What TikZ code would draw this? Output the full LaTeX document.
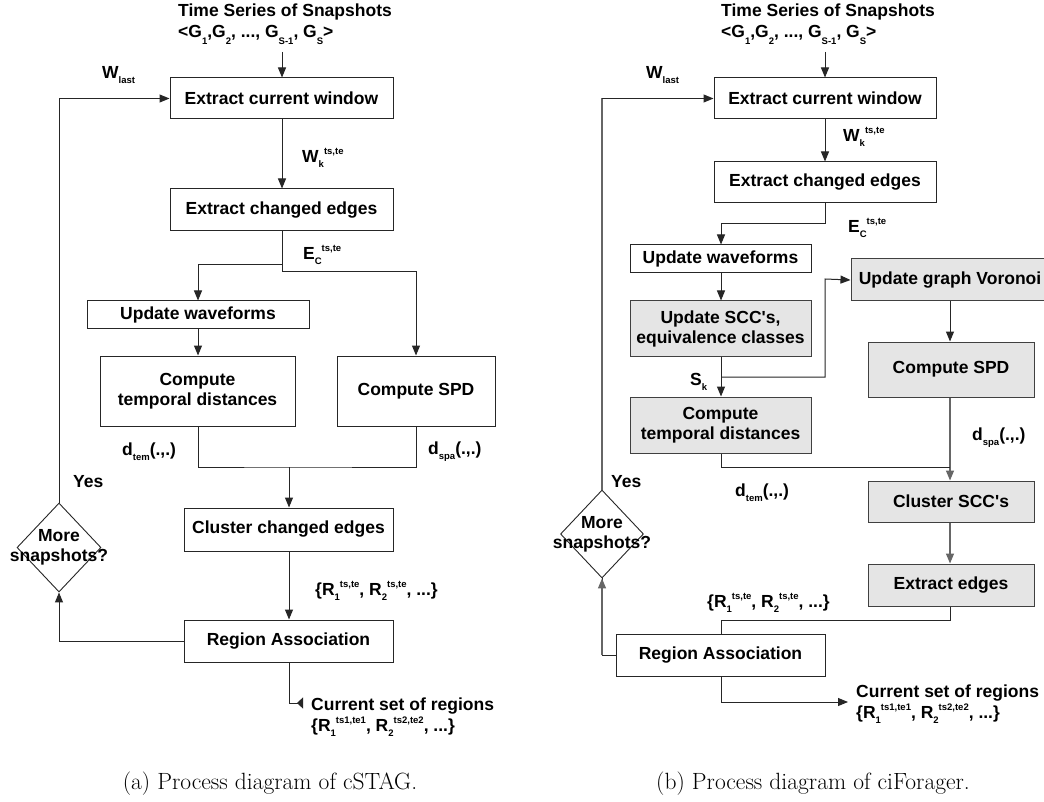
\documentclass[tikz,border=0pt]{standalone}
\usepackage{fontspec}
\newfontfamily\arialb{Liberation Sans}
\usetikzlibrary{arrows.meta,shapes.geometric}
% small raised / lowered indices for the bold sans labels
\newcommand\dn[1]{\raisebox{-5pt}{\fontsize{9.5}{9.5}\selectfont #1}}
\newcommand\dnG[1]{\raisebox{-7pt}{\fontsize{9.5}{9.5}\selectfont #1}}
\newcommand\up[1]{\raisebox{7.5pt}{\fontsize{9.5}{9.5}\selectfont #1}}
\tikzset{
  txt/.style={font=\arialb\bfseries\fontsize{17.5}{20}\selectfont, inner sep=0pt},
  box/.style={txt, draw=black!85, line width=1pt, align=center, anchor=center},
  gbox/.style={box, fill=black!10, draw=black!75},
  line/.style={draw=black!85, line width=1pt},
  gline/.style={draw=black!60, line width=1.3pt},
  arr/.style={line, -{Triangle[length=10pt,width=8pt]}},
  garr/.style={gline, -{Triangle[length=10pt,width=8pt]}},
  dia/.style={shape=diamond, draw=black!85, line width=0.9pt, inner sep=0pt},
  lbl/.style={txt, anchor=west, align=left},
  % two-line text, placed by the baseline of its last line
  para/.style={txt, anchor=base west, align=left, font=\arialb\bfseries\fontsize{17.5}{20.5}\selectfont},
  captext/.style={font=\fontsize{23.5}{26}\selectfont, inner sep=0pt}
}
\begin{document}
\begin{tikzpicture}[x=1pt,y=-1pt]
\useasboundingbox[fill=white] (0,0) rectangle (1044,802);

%% ---------------- (a) cSTAG ----------------
\node[para] (tsA) at (178,37.5) {Time Series of Snapshots\\<G\dnG{1},G\dnG{2}, ..., G\dnG{S-1}, G\dnG{S}>};
\coordinate (inA) at (282,52);
\node[box, minimum width=223pt, minimum height=41pt] (ewA) at (281.5,98.5) {Extract current window};
\node[box, minimum width=223pt, minimum height=42pt] (ceA) at (281.5,210) {Extract changed edges};
\node[box, minimum width=222pt, minimum height=27pt] (uwA) at (198,314.5) {Update waveforms};
\node[box, minimum width=195pt, minimum height=70pt] (ctA) at (197.5,391) {Compute\\temporal distances};
\node[box, minimum width=158pt, minimum height=70pt] (spA) at (416,391) {Compute SPD};
\node[box, minimum width=209pt, minimum height=43pt] (clA) at (288.5,529.5) {Cluster changed edges};
\node[box, minimum width=209pt, minimum height=42pt] (raA) at (288.5,641) {Region Association};
\node[dia, minimum width=84pt, minimum height=89pt,
      label={[txt, align=center]center:More\\snapshots?}] (dmA) at (59,547.5) {};
\coordinate (jA) at (289,467);
\coordinate (oA) at (303,703);

\draw[arr] (inA) -- (ewA.north -| inA);
\draw[arr] (ewA.south -| inA) -- (ceA.north -| inA);
\draw[arr] (ceA.south -| inA) |- (198,265) -- (uwA.north);
\draw[arr] (ceA.south -| inA) |- (416,272) -- (spA.north);
\draw[arr] (uwA.south) -- (ctA.north -| uwA);
\draw[line] (ctA.south -| uwA) |- (jA) -| (spA.south);
\draw[arr] (jA) -- (clA.north -| jA);
\draw[arr] (clA.south -| jA) -- (raA.north -| jA);
\draw[arr] (raA.west) -| (dmA.south);
\draw[arr] (dmA.north) |- (ewA.west);
\draw[line, -{Triangle[length=6pt,width=11pt,reversed]}] (raA.south -| jA) |- (oA);

\node[lbl] (wlA) at (102,75) {W\dn{last}};
\node[lbl] (wkA) at (302,158) {W\dn{k}\up{ts,te}};
\node[lbl] (ecA) at (303,255) {E\dn{C}\up{ts,te}};
\node[lbl] (dtA) at (122,452) {d\dn{tem}(.,.)};
\node[lbl] (dsA) at (428,452) {d\dn{spa}(.,.)};
\node[lbl] (yA) at (73,482) {Yes};
\node[lbl] (rA) at (315,591) {\{R\dn{1}\up{ts,te}, R\dn{2}\up{ts,te}, ...\}};
\node[para] (outA) at (311,731) {Current set of regions\\\{R\dn{1}\up{ts1,te1}, R\dn{2}\up{ts2,te2}, ...\}};
\node[captext] (capA) at (270,784) {(a) Process diagram of cSTAG.};

%% ---------------- (b) ciForager ----------------
\node[para] (tsB) at (721,37.5) {Time Series of Snapshots\\<G\dnG{1},G\dnG{2}, ..., G\dnG{S-1}, G\dnG{S}>};
\coordinate (inB) at (825,52);
\node[box, minimum width=222pt, minimum height=41pt] (ewB) at (825,98.5) {Extract current window};
\node[box, minimum width=222pt, minimum height=41pt] (ceB) at (825,182.5) {Extract changed edges};
\node[box, minimum width=181pt, minimum height=28pt] (uwB) at (720.5,259) {Update waveforms};
\node[gbox, minimum width=181pt, minimum height=55pt] (scB) at (720.5,328.5) {Update SCC's,\\equivalence classes};
\node[gbox, minimum width=181pt, minimum height=56pt] (ctB) at (720.5,425) {Compute\\temporal distances};
\node[gbox, minimum width=198pt, minimum height=42pt] (vrB) at (950,280) {Update graph Voronoi};
\node[gbox, minimum width=166pt, minimum height=55pt] (spB) at (951,369.5) {Compute SPD};
\node[gbox, minimum width=166pt, minimum height=41pt] (csB) at (951,501.5) {Cluster SCC's};
\node[gbox, minimum width=166pt, minimum height=42pt] (eeB) at (951,585) {Extract edges};
\node[box, minimum width=209pt, minimum height=42pt] (raB) at (720.5,655) {Region Association};
\node[dia, minimum width=83pt, minimum height=88pt,
      label={[txt, align=center]center:More\\snapshots?}] (dmB) at (602,534) {};
\coordinate (sB) at (721,377);
\coordinate (jB) at (950,467);
\coordinate (oB) at (848,702);

\draw[arr] (inB) -- (ewB.north -| inB);
\draw[arr] (ewB.south -| inB) -- (ceB.north -| inB);
\draw[arr] (ceB.south -| inB) |- (721,224) -- (uwB.north -| sB);
\draw[arr] (uwB.south -| sB) -- (scB.north -| sB);
\draw[arr] (scB.south -| sB) -- (ctB.north -| sB);
\draw[arr] (sB) -| (825,279) -- (vrB.west);
\draw[arr] (vrB.south) -- (spB.north -| vrB);
\draw[garr] (spB.south -| jB) -- (csB.north -| jB);
\draw[line] (ctB.south -| sB) |- (jB);
\draw[garr] (csB.south -| jB) -- (eeB.north -| jB);
\draw[line] (eeB.south -| jB) |- (721,620) -- (raB.north -| sB);
\draw[line] (raB.west) -| (dmB.south);
\draw[garr] (dmB.south |- raB.west) -- (dmB.south);
\draw[gline] (dmB.north) -- (dmB.north |- ewB.west);
\draw[arr] (dmB.north |- ewB.west) -- (ewB.west);
\draw[arr] (raB.south -| sB) |- (oB);

\node[lbl] (wlB) at (646,75) {W\dn{last}};
\node[lbl] (wkB) at (843,137) {W\dn{k}\up{ts,te}};
\node[lbl] (ecB) at (848,228) {E\dn{C}\up{ts,te}};
\node[lbl] (skB) at (690,382) {S\dn{k}};
\node[lbl] (dsB) at (972,438) {d\dn{spa}(.,.)};
\node[lbl] (dtB) at (735,493) {d\dn{tem}(.,.)};
\node[lbl] (yB) at (611,482) {Yes};
\node[lbl] (rB) at (707,603) {\{R\dn{1}\up{ts,te}, R\dn{2}\up{ts,te}, ...\}};
\node[para] (outB) at (856,718) {Current set of regions\\\{R\dn{1}\up{ts1,te1}, R\dn{2}\up{ts2,te2}, ...\}};
\node[captext] (capB) at (813,784) {(b) Process diagram of ciForager.};
\end{tikzpicture}
\end{document}
